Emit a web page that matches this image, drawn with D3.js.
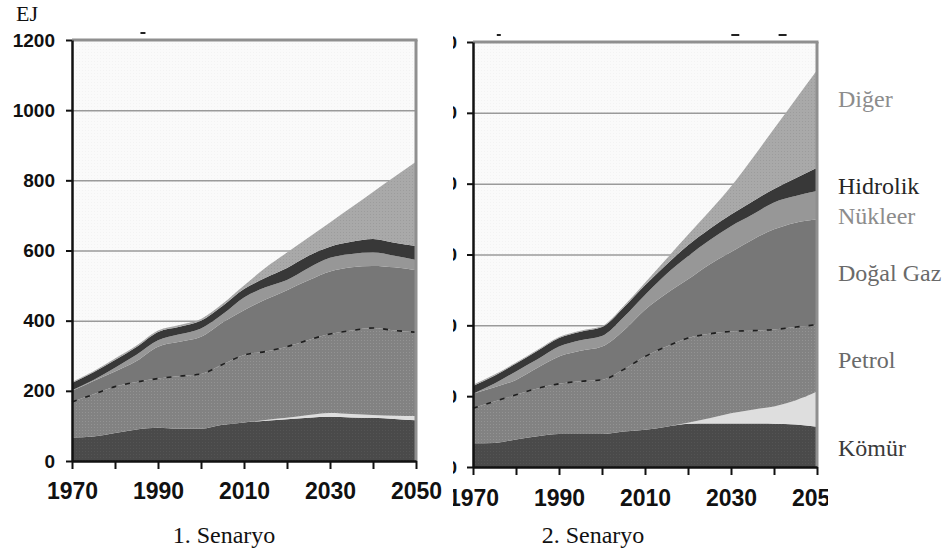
<!DOCTYPE html>
<html>
<head>
<meta charset="utf-8">
<script src="https://cdn.jsdelivr.net/npm/d3@7"></script>
<style>
  html, body { margin: 0; padding: 0; background: #fff; }
  svg { display: block; }
</style>
</head>
<body>
<svg id="chart" width="952" height="556"></svg>
<script>
// ---------- DATA ----------
const years = [1970,1975,1980,1985,1990,1995,2000,2005,2010,2015,2020,2025,2030,2035,2040,2045,2050];

// 1. Senaryo (EJ per source)
const s1Komur    = [67,70,80,90,95,92,92,103,110,115,119,123,126,124,123,120,116];
const s1Acik     = [0,0,0,0,0,0,0,0,0,2,4,8,11,10,8,9,12];
const s1Petrol   = [101,120,132,135,140,150,156,172,192,195,203,214,225,238,248,243,239];
const s1DogalGaz = [32,38,43,60,91,98,106,120,128,148,161,170,178,180,177,180,177];
const s1Nukleer  = [2,3,11,18,18,21,24,23,36,35,29,35,39,38,38,33,29];
const s1Hidrolik = [20,22,22,22,24,22,22,24,24,27,34,35,32,35,39,37,40];
const s1Diger    = [3,3,4,4,4,5,5,6,10,29,44,52,69,98,134,188,240];

// 2. Senaryo (EJ per source)
const s2Komur    = [67,68,78,87,93,93,93,100,105,114,122,123,123,123,122,120,114];
const s2Acik     = [0,0,0,0,0,0,0,0,0,0,3,15,29,39,49,68,99];
const s2Petrol   = [99,117,126,135,142,149,153,175,207,226,239,238,231,223,217,207,189];
const s2DogalGaz = [41,40,42,58,77,86,94,110,132,150,166,196,224,257,283,295,297];
const s2Nukleer  = [0,11,24,24,28,30,30,38,42,55,65,68,73,71,76,75,80];
const s2Hidrolik = [22,22,22,24,24,24,25,27,27,27,31,32,33,37,38,50,66];
const s2Diger    = [3,3,3,3,3,3,3,4,7,16,30,50,79,122,170,223,275];

const seriesKeys   = ["komur","acik","petrol","dogalgaz","nukleer","hidrolik","diger"];
const yTicks       = [0,200,400,600,800,1000,1200];
const xTicks       = [1970,1980,1990,2000,2010,2020,2030,2040,2050];
const xTickLabels  = [1970,1990,2010,2030,2050];
const legendLabels = ["Diğer","Hidrolik","Nükleer","Doğal Gaz","Petrol","Kömür"];
const panelTitles  = ["1. Senaryo","2. Senaryo"];
const unitLabel    = "EJ";

// ---------- STYLE ----------
const fills = {
  komur: "#4a4a4a", acik: "#dedede", petrol: "#828282", dogalgaz: "#777777",
  nukleer: "#979797", hidrolik: "#383838", diger: "#a9a9a9"
};
const legendColors = ["#8c8c8c","#262626","#8c8c8c","#6a6a6a","#6a6a6a","#3a3a3a"];
const legendY = [107,194,224,281,368,456];

function buildRows(k, a, p, g, n, h, d) {
  return years.map((yr, i) => ({
    year: yr, komur: k[i], acik: a[i], petrol: p[i], dogalgaz: g[i],
    nukleer: n[i], hidrolik: h[i], diger: d[i]
  }));
}
const rows1 = buildRows(s1Komur, s1Acik, s1Petrol, s1DogalGaz, s1Nukleer, s1Hidrolik, s1Diger);
const rows2 = buildRows(s2Komur, s2Acik, s2Petrol, s2DogalGaz, s2Nukleer, s2Hidrolik, s2Diger);

const svg = d3.select("#chart");
const defs = svg.append("defs");

// subtle dotted textures
function addPattern(id, base, dot) {
  const p = defs.append("pattern").attr("id", id).attr("width", 3).attr("height", 3)
    .attr("patternUnits", "userSpaceOnUse");
  p.append("rect").attr("width", 3).attr("height", 3).attr("fill", base);
  p.append("rect").attr("x", 1).attr("y", 1).attr("width", 1).attr("height", 1).attr("fill", dot);
}
addPattern("pat-petrol", fills.petrol, "#939393");
addPattern("pat-diger", fills.diger, "#9c9c9c");
addPattern("pat-komur", fills.komur, "#545454");
addPattern("pat-bg", "#fafafa", "#f3f3f3");
const fillRef = {
  komur: "url(#pat-komur)", acik: fills.acik, petrol: "url(#pat-petrol)", dogalgaz: fills.dogalgaz,
  nukleer: fills.nukleer, hidrolik: fills.hidrolik, diger: "url(#pat-diger)"
};

// clip for right panel (hidden behind left image / legend)
defs.append("clipPath").attr("id", "clip-right")
  .append("rect").attr("x", 453).attr("y", 0).attr("width", 375).attr("height", 556);

function drawPanel(parent, rows, cfg) {
  const x = d3.scaleLinear().domain([1970, 2050]).range([cfg.x0, cfg.x1]);
  const y = d3.scaleLinear().domain([0, 1200]).range([cfg.y0, cfg.y1]);
  const g = parent.append("g");

  // plot background
  g.append("rect").attr("x", cfg.x0).attr("y", cfg.y1)
    .attr("width", cfg.x1 - cfg.x0).attr("height", cfg.y0 - cfg.y1)
    .attr("fill", "url(#pat-bg)");

  // gridlines
  g.append("g").attr("transform", `translate(${cfg.x0},0)`)
    .call(d3.axisLeft(y).tickValues(yTicks.filter(v => v > 0 && v < 1200))
      .tickSize(-(cfg.x1 - cfg.x0)).tickFormat(""))
    .call(s => s.select(".domain").remove())
    .call(s => s.selectAll("line").attr("stroke", "#9a9a9a").attr("stroke-width", 1.5));

  // stacked areas
  const stack = d3.stack().keys(seriesKeys);
  const layers = stack(rows);
  const area = d3.area()
    .x(d => x(d.data.year)).y0(d => y(d[0])).y1(d => y(d[1]))
    .curve(d3.curveMonotoneX);
  g.append("g").selectAll("path").data(layers).join("path")
    .attr("d", area).attr("fill", d => fillRef[d.key]);

  // dashed line on top of petrol
  const petrolLayer = layers.find(l => l.key === "petrol");
  const line = d3.line().x(d => x(d.data.year)).y(d => y(d[1])).curve(d3.curveMonotoneX);
  g.append("path").attr("d", line(petrolLayer)).attr("fill", "none")
    .attr("stroke", "#1e1e1e").attr("stroke-width", 1.6).attr("stroke-dasharray", "5,9");

  // frame (top and right, gray)
  g.append("line").attr("x1", cfg.x0).attr("x2", cfg.x1 + 1.5).attr("y1", cfg.y1).attr("y2", cfg.y1)
    .attr("stroke", "#8f8f8f").attr("stroke-width", 3);
  g.append("line").attr("x1", cfg.x1).attr("x2", cfg.x1).attr("y1", cfg.y1).attr("y2", cfg.y0)
    .attr("stroke", "#8f8f8f").attr("stroke-width", 3);

  // y axis
  const ya = g.append("g").attr("transform", `translate(${cfg.x0},0)`)
    .call(d3.axisLeft(y).tickValues(yTicks).tickSize(6).tickPadding(cfg.yPad).tickSizeOuter(0)
      .tickFormat(d3.format("d")));
  ya.select(".domain").attr("stroke", "#111").attr("stroke-width", 2.5);
  ya.selectAll("line").attr("stroke", "#111").attr("stroke-width", 2);
  ya.selectAll("text").attr("font-family", "'Liberation Sans', Arial, sans-serif")
    .attr("font-weight", "bold").attr("font-size", 19).attr("fill", "#111");

  // x axis
  const xa = g.append("g").attr("transform", `translate(0,${cfg.y0})`)
    .call(d3.axisBottom(x).tickValues(xTicks).tickSize(8).tickPadding(cfg.xPad).tickSizeOuter(0)
      .tickFormat(d => xTickLabels.includes(d) ? String(d) : ""));
  xa.select(".domain").attr("stroke", "#111").attr("stroke-width", 2.5);
  xa.selectAll("line").attr("stroke", "#111").attr("stroke-width", 2);
  xa.selectAll("text").attr("font-family", "'Liberation Sans', Arial, sans-serif")
    .attr("font-weight", "bold").attr("font-size", 23).attr("fill", "#111");

  // small remnant marks above the frame
  g.append("g").selectAll("line").data(cfg.marks).join("line")
    .attr("x1", d => x(d[0]) - d[1] / 2).attr("x2", d => x(d[0]) + d[1] / 2)
    .attr("y1", cfg.y1 - 7).attr("y2", cfg.y1 - 7)
    .attr("stroke", "#222").attr("stroke-width", 2);

  // panel title
  if (cfg.title) {
    parent.append("text").attr("x", (cfg.x0 + cfg.x1) / 2 + cfg.titleDx).attr("y", 543)
      .attr("text-anchor", "middle")
      .attr("font-family", "'Liberation Serif', 'Times New Roman', serif")
      .attr("font-size", 24).attr("fill", "#111").text(cfg.title);
  }
}

// right panel first (clipped)
const right = svg.append("g").attr("clip-path", "url(#clip-right)");
drawPanel(right, rows2, { x0: 473, x1: 817, y0: 467, y1: 42, yPad: 10, xPad: 15, title: "", titleDx: 0,
  marks: [[1976, 4], [2031, 8], [2042, 8]] });
svg.append("text").attr("x", 593).attr("y", 543).attr("text-anchor", "middle")
  .attr("font-family", "'Liberation Serif', 'Times New Roman', serif")
  .attr("font-size", 24).attr("fill", "#111").text(panelTitles[1]);

// left panel
const left = svg.append("g");
drawPanel(left, rows1, { x0: 72, x1: 416, y0: 461, y1: 40, yPad: 11, xPad: 14, title: panelTitles[0], titleDx: -20,
  marks: [[1986.5, 5]] });

// unit label
svg.append("text").attr("x", 16).attr("y", 21)
  .attr("font-family", "'Liberation Serif', 'Times New Roman', serif")
  .attr("font-size", 22).attr("fill", "#111").text(unitLabel);

// legend labels
svg.append("g").selectAll("text").data(legendLabels).join("text")
  .attr("x", 838).attr("y", (d, i) => legendY[i])
  .attr("font-family", "'Liberation Serif', 'Times New Roman', serif")
  .attr("font-size", 24).attr("fill", (d, i) => legendColors[i]).text(d => d);
</script>
</body>
</html>
